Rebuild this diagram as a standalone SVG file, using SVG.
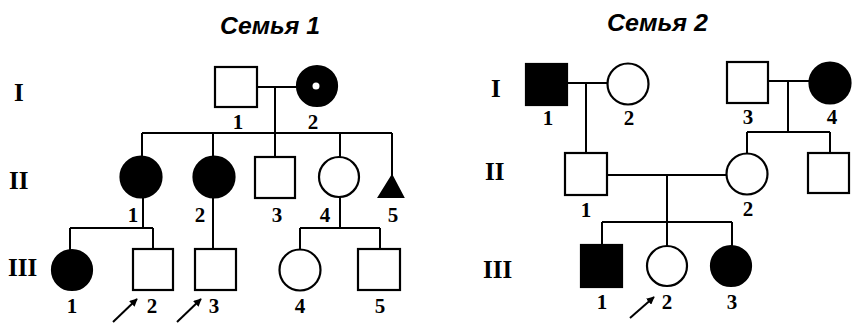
<svg xmlns="http://www.w3.org/2000/svg" width="852" height="323" viewBox="0 0 852 323">
<style>
.o{fill:#fff;stroke:#000;stroke-width:2.2}
.f{fill:#000;stroke:#000;stroke-width:2.2}
.ln{fill:none;stroke:#000;stroke-width:2}
.n{font-family:"Liberation Serif",serif;font-weight:bold;font-size:21px;text-anchor:middle;fill:#000}
.r{font-family:"Liberation Serif",serif;font-weight:bold;font-size:25px;fill:#000}
.t{font-family:"Liberation Sans",sans-serif;font-weight:bold;font-style:italic;font-size:24px;fill:#000}
</style>
<defs>
<marker id="ah" viewBox="0 0 10 10" refX="9" refY="5" markerWidth="8" markerHeight="8" orient="auto" markerUnits="userSpaceOnUse"><path d="M0,0 L10,5 L0,10 z" fill="#000"/></marker>
</defs>
<rect width="852" height="323" fill="#fff"/>
<text class="t" x="220" y="34" textLength="100" lengthAdjust="spacingAndGlyphs">Семья 1</text>
<text class="t" x="607" y="31" textLength="101" lengthAdjust="spacingAndGlyphs">Семья 2</text>
<g id="gen-labels">
<text class="r" x="14" y="101">I</text>
<text class="r" x="9" y="189">II</text>
<text class="r" x="8" y="276">III</text>
<text class="r" x="491" y="97">I</text>
<text class="r" x="485" y="180">II</text>
<text class="r" x="483" y="278">III</text>
</g>
<g id="connectors">
<path class="ln" d="M257,87 H298 M275,87 V157 M142,133 H392 M142,133 V156 M213,133 V156 M340,133 V157 M392,133 V176"/>
<path class="ln" d="M143,197 V228 M70,228 H153 M70,228 V250 M153,228 V249 M213,197 V249 M340,197 V228 M300,228 H380 M300,228 V250 M380,228 V249"/>
<path class="ln" d="M567,83 H608 M586,83 V153 M768,81 H809 M788,81 V132 M747,132 H830 M747,132 V153 M830,132 V153"/>
<path class="ln" d="M607,175 H727 M667,175 V222 M602,222 H732 M602,222 V245 M667,222 V246 M732,222 V246"/>
<line class="ln" x1="113" y1="322" x2="137" y2="299" marker-end="url(#ah)"/>
<line class="ln" x1="177" y1="322" x2="201" y2="299" marker-end="url(#ah)"/>
<line class="ln" x1="630" y1="318" x2="654" y2="297" marker-end="url(#ah)"/>
</g>
<g id="f1-I-1"><rect class="o" x="215" y="67" width="42" height="40"/><text class="n" x="238" y="129">1</text></g>
<g id="f1-I-2"><circle class="f" cx="317" cy="86" r="20"/><circle cx="316" cy="86" r="3.5" fill="#fff"/><text class="n" x="313" y="129">2</text></g>
<g id="f1-II-1"><circle class="f" cx="141" cy="177" r="20.5"/><text class="n" x="133" y="222">1</text></g>
<g id="f1-II-2"><circle class="f" cx="214" cy="177" r="20.5"/><text class="n" x="200" y="222">2</text></g>
<g id="f1-II-3"><rect class="o" x="255" y="157" width="40" height="41"/><text class="n" x="277" y="222">3</text></g>
<g id="f1-II-4"><circle class="o" cx="339" cy="177" r="20"/><text class="n" x="325" y="222">4</text></g>
<g id="f1-II-5"><polygon class="f" points="392,176 403,197 379,197"/><text class="n" x="393" y="222">5</text></g>
<g id="f1-III-1"><circle class="f" cx="72" cy="270" r="20"/><text class="n" x="72" y="313">1</text></g>
<g id="f1-III-2"><rect class="o" x="133" y="249" width="40" height="41"/><text class="n" x="152" y="313">2</text></g>
<g id="f1-III-3"><rect class="o" x="195" y="249" width="41" height="41"/><text class="n" x="214" y="313">3</text></g>
<g id="f1-III-4"><circle class="o" cx="300" cy="270" r="20.5"/><text class="n" x="300" y="313">4</text></g>
<g id="f1-III-5"><rect class="o" x="358" y="249" width="42" height="41"/><text class="n" x="380" y="313">5</text></g>
<g id="f2-I-1"><rect class="f" x="526" y="64" width="41" height="41"/><text class="n" x="548" y="125">1</text></g>
<g id="f2-I-2"><circle class="o" cx="628" cy="84" r="20.5"/><text class="n" x="629" y="125">2</text></g>
<g id="f2-I-3"><rect class="o" x="727" y="62" width="41" height="41"/><text class="n" x="748" y="124">3</text></g>
<g id="f2-I-4"><circle class="f" cx="830" cy="83" r="20.5"/><text class="n" x="832" y="124">4</text></g>
<g id="f2-II-1"><rect class="o" x="565" y="153" width="42" height="42"/><text class="n" x="586" y="217">1</text></g>
<g id="f2-II-2"><circle class="o" cx="747" cy="174" r="20.5"/><text class="n" x="748" y="216">2</text></g>
<g id="f2-II-3"><rect class="o" x="808" y="153" width="41" height="40"/></g>
<g id="f2-III-1"><rect class="f" x="581" y="245" width="41" height="42"/><text class="n" x="602" y="309">1</text></g>
<g id="f2-III-2"><circle class="o" cx="667" cy="266" r="20"/><text class="n" x="667" y="309">2</text></g>
<g id="f2-III-3"><circle class="f" cx="731" cy="266" r="20"/><text class="n" x="732" y="309">3</text></g>
</svg>
